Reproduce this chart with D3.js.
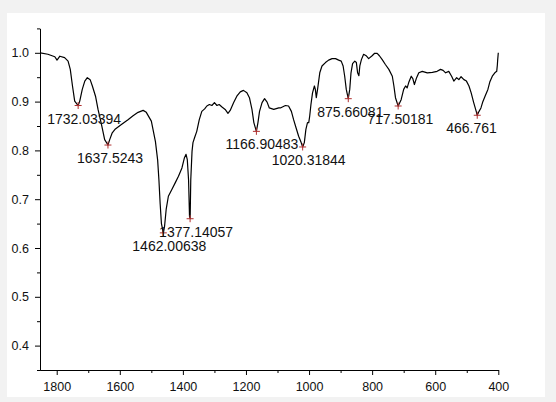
<!DOCTYPE html>
<html lang="en">
<head>
    <meta charset="UTF-8">
    <title>IR Spectrum</title>
    <script src="https://cdnjs.cloudflare.com/ajax/libs/d3/7.9.0/d3.min.js"></script>
    <style>
        body { margin: 0; background: #f2f2f2; }
        svg { display: block; font-family: "Liberation Sans", Arial, sans-serif; }
        .tick text { font-size: 12.5px; fill: #111; }
        .peak-label { font-size: 14px; fill: #111; }
    </style>
</head>
<body>
    <svg width="556" height="402"></svg>

    <script>
        // spectrum (wavenumber, transmittance)
        const wavenumbers = [
            1852, 1828, 1806, 1799, 1790, 1775, 1764, 1757, 1750, 1743,
            1732, 1727, 1719, 1711, 1703, 1694, 1687, 1677, 1669, 1658,
            1648, 1637.5, 1632, 1624, 1614, 1595, 1574, 1558, 1542, 1526,
            1516, 1500, 1487, 1480, 1476, 1472, 1468, 1462, 1458, 1453,
            1446, 1435, 1424, 1414, 1403, 1395, 1390, 1386, 1382, 1379,
            1377, 1375, 1371, 1368, 1363, 1356, 1348, 1340, 1331, 1324,
            1316, 1308, 1300, 1292, 1285, 1276, 1266, 1257, 1250, 1239,
            1229, 1218, 1208, 1197, 1189, 1181, 1175, 1167, 1162, 1157,
            1149, 1141, 1133, 1126, 1112, 1096, 1091, 1075, 1065, 1056,
            1049, 1041, 1033, 1025, 1020.3, 1015, 1010, 1005, 1001, 998,
            994, 989, 983, 980, 977, 973, 966, 959, 948, 938,
            927, 916, 906, 898, 892, 887, 882, 875.7, 871, 867,
            862, 855, 850, 846, 842, 839, 834, 827, 819, 811,
            800, 792, 784, 777, 768, 758, 747, 736, 731, 726,
            717.5, 708, 700, 694, 689, 684, 676, 671, 666, 659,
            652, 641, 625, 609, 594, 583, 575, 567, 557, 548,
            541, 532, 525, 518, 509, 501, 493, 486, 478, 470,
            466.8, 461, 455, 450, 442, 433, 427, 419, 411, 405,
            403, 402, 400
        ];
        const transmittance = [
            1.000, 0.997, 0.992, 0.985, 0.993, 0.990, 0.983, 0.966, 0.932, 0.901,
            0.892, 0.901, 0.925, 0.942, 0.949, 0.945, 0.932, 0.911, 0.884, 0.853,
            0.822, 0.811, 0.822, 0.836, 0.844, 0.853, 0.863, 0.871, 0.878, 0.882,
            0.878, 0.860, 0.818, 0.780, 0.740, 0.690, 0.650, 0.631, 0.645, 0.679,
            0.706, 0.720, 0.734, 0.747, 0.764, 0.785, 0.792, 0.781, 0.740, 0.665,
            0.660, 0.740, 0.798, 0.816, 0.826, 0.839, 0.863, 0.880, 0.885, 0.891,
            0.894, 0.892, 0.898, 0.892, 0.894, 0.889, 0.884, 0.876, 0.882, 0.898,
            0.911, 0.920, 0.923, 0.918, 0.908, 0.884, 0.857, 0.839, 0.857, 0.880,
            0.898, 0.906, 0.899, 0.887, 0.884, 0.887, 0.887, 0.892, 0.891, 0.880,
            0.863, 0.846, 0.829, 0.816, 0.807, 0.816, 0.843, 0.857, 0.857, 0.870,
            0.894, 0.918, 0.932, 0.925, 0.908, 0.925, 0.959, 0.973, 0.980, 0.985,
            0.988, 0.988, 0.985, 0.983, 0.973, 0.952, 0.925, 0.906, 0.925, 0.959,
            0.978, 0.983, 0.980, 0.959, 0.953, 0.973, 0.986, 0.997, 0.994, 0.988,
            0.994, 0.999, 0.999, 0.994, 0.986, 0.976, 0.966, 0.952, 0.932, 0.908,
            0.891, 0.904, 0.925, 0.932, 0.928, 0.939, 0.952, 0.947, 0.935, 0.949,
            0.959, 0.962, 0.959, 0.960, 0.962, 0.966, 0.964, 0.959, 0.962, 0.952,
            0.942, 0.949, 0.945, 0.951, 0.945, 0.942, 0.932, 0.918, 0.898, 0.880,
            0.872, 0.880, 0.887, 0.898, 0.911, 0.925, 0.940, 0.952, 0.959, 0.962,
            0.975, 0.985, 1.000
        ];

        // marked peaks
        const peakWn = [1732.03394, 1637.5243, 1462.00638, 1377.14057, 1166.90483,
                        1020.31844, 875.66081, 717.50181, 466.761];
        const peakT = [0.892, 0.811, 0.631, 0.660, 0.839, 0.807, 0.906, 0.891, 0.872];
        const peakLabels = ["1732.03394", "1637.5243", "1462.00638", "1377.14057", "1166.90483",
                            "1020.31844", "875.66081", "717.50181", "466.761"];

        const xMajor = [1800, 1600, 1400, 1200, 1000, 800, 600, 400];
        const xMinor = [1700, 1500, 1300, 1100, 900, 700, 500];
        const yMajor = [0.4, 0.5, 0.6, 0.7, 0.8, 0.9, 1.0];
        const yMinor = [0.35, 0.45, 0.55, 0.65, 0.75, 0.85, 0.95, 1.05];

        const svg = d3.select("svg");

        // white picture area inside the grey frame
        svg.append("rect")
            .attr("x", 7).attr("y", 13)
            .attr("width", 538).attr("height", 384)
            .attr("fill", "white");

        const x = d3.scaleLinear().domain([1853, 400]).range([40, 498.3]);
        const y = d3.scaleLinear().domain([0.35, 1.05]).range([370, 28.4]);

        // axes
        const xAxisG = svg.append("g").attr("transform", "translate(0,370)");
        xAxisG.call(d3.axisBottom(x).tickValues(xMinor).tickSize(3).tickSizeOuter(0).tickFormat(""));
        xAxisG.append("g").call(d3.axisBottom(x).tickValues(xMajor).tickSize(5).tickSizeOuter(0)
            .tickPadding(7).tickFormat(d3.format("d")));

        const yAxisG = svg.append("g").attr("transform", "translate(40,0)");
        yAxisG.call(d3.axisLeft(y).tickValues(yMinor).tickSize(3).tickSizeOuter(0).tickFormat(""));
        yAxisG.append("g").call(d3.axisLeft(y).tickValues(yMajor).tickSize(5).tickSizeOuter(0)
            .tickPadding(6).tickFormat(d3.format(".1f")));

        svg.selectAll(".domain").attr("stroke", "#000");
        svg.selectAll(".tick line").attr("stroke", "#000");

        // spectrum line
        const points = wavenumbers.map((w, i) => [w, transmittance[i]]);
        const line = d3.line()
            .x(d => x(d[0]))
            .y(d => y(d[1]));

        svg.append("path")
            .datum(points)
            .attr("fill", "none")
            .attr("stroke", "#000")
            .attr("stroke-width", 1.2)
            .attr("stroke-linejoin", "round")
            .attr("d", line);

        // peak markers + labels
        const peaks = peakWn.map((w, i) => ({ w: w, t: peakT[i], label: peakLabels[i] }));

        svg.selectAll(".peak-mark")
            .data(peaks)
            .enter()
            .append("path")
            .attr("class", "peak-mark")
            .attr("transform", d => `translate(${x(d.w)},${y(d.t)})`)
            .attr("d", "M-3.5,0H3.5M0,-3.5V3.5")
            .attr("stroke", "#b03030")
            .attr("stroke-width", 1);

        svg.selectAll(".peak-label")
            .data(peaks)
            .enter()
            .append("text")
            .attr("class", "peak-label")
            .attr("x", d => x(d.w) - 31)
            .attr("y", d => y(d.t) + 18)
            .text(d => d.label);
    </script>
</body>
</html>
